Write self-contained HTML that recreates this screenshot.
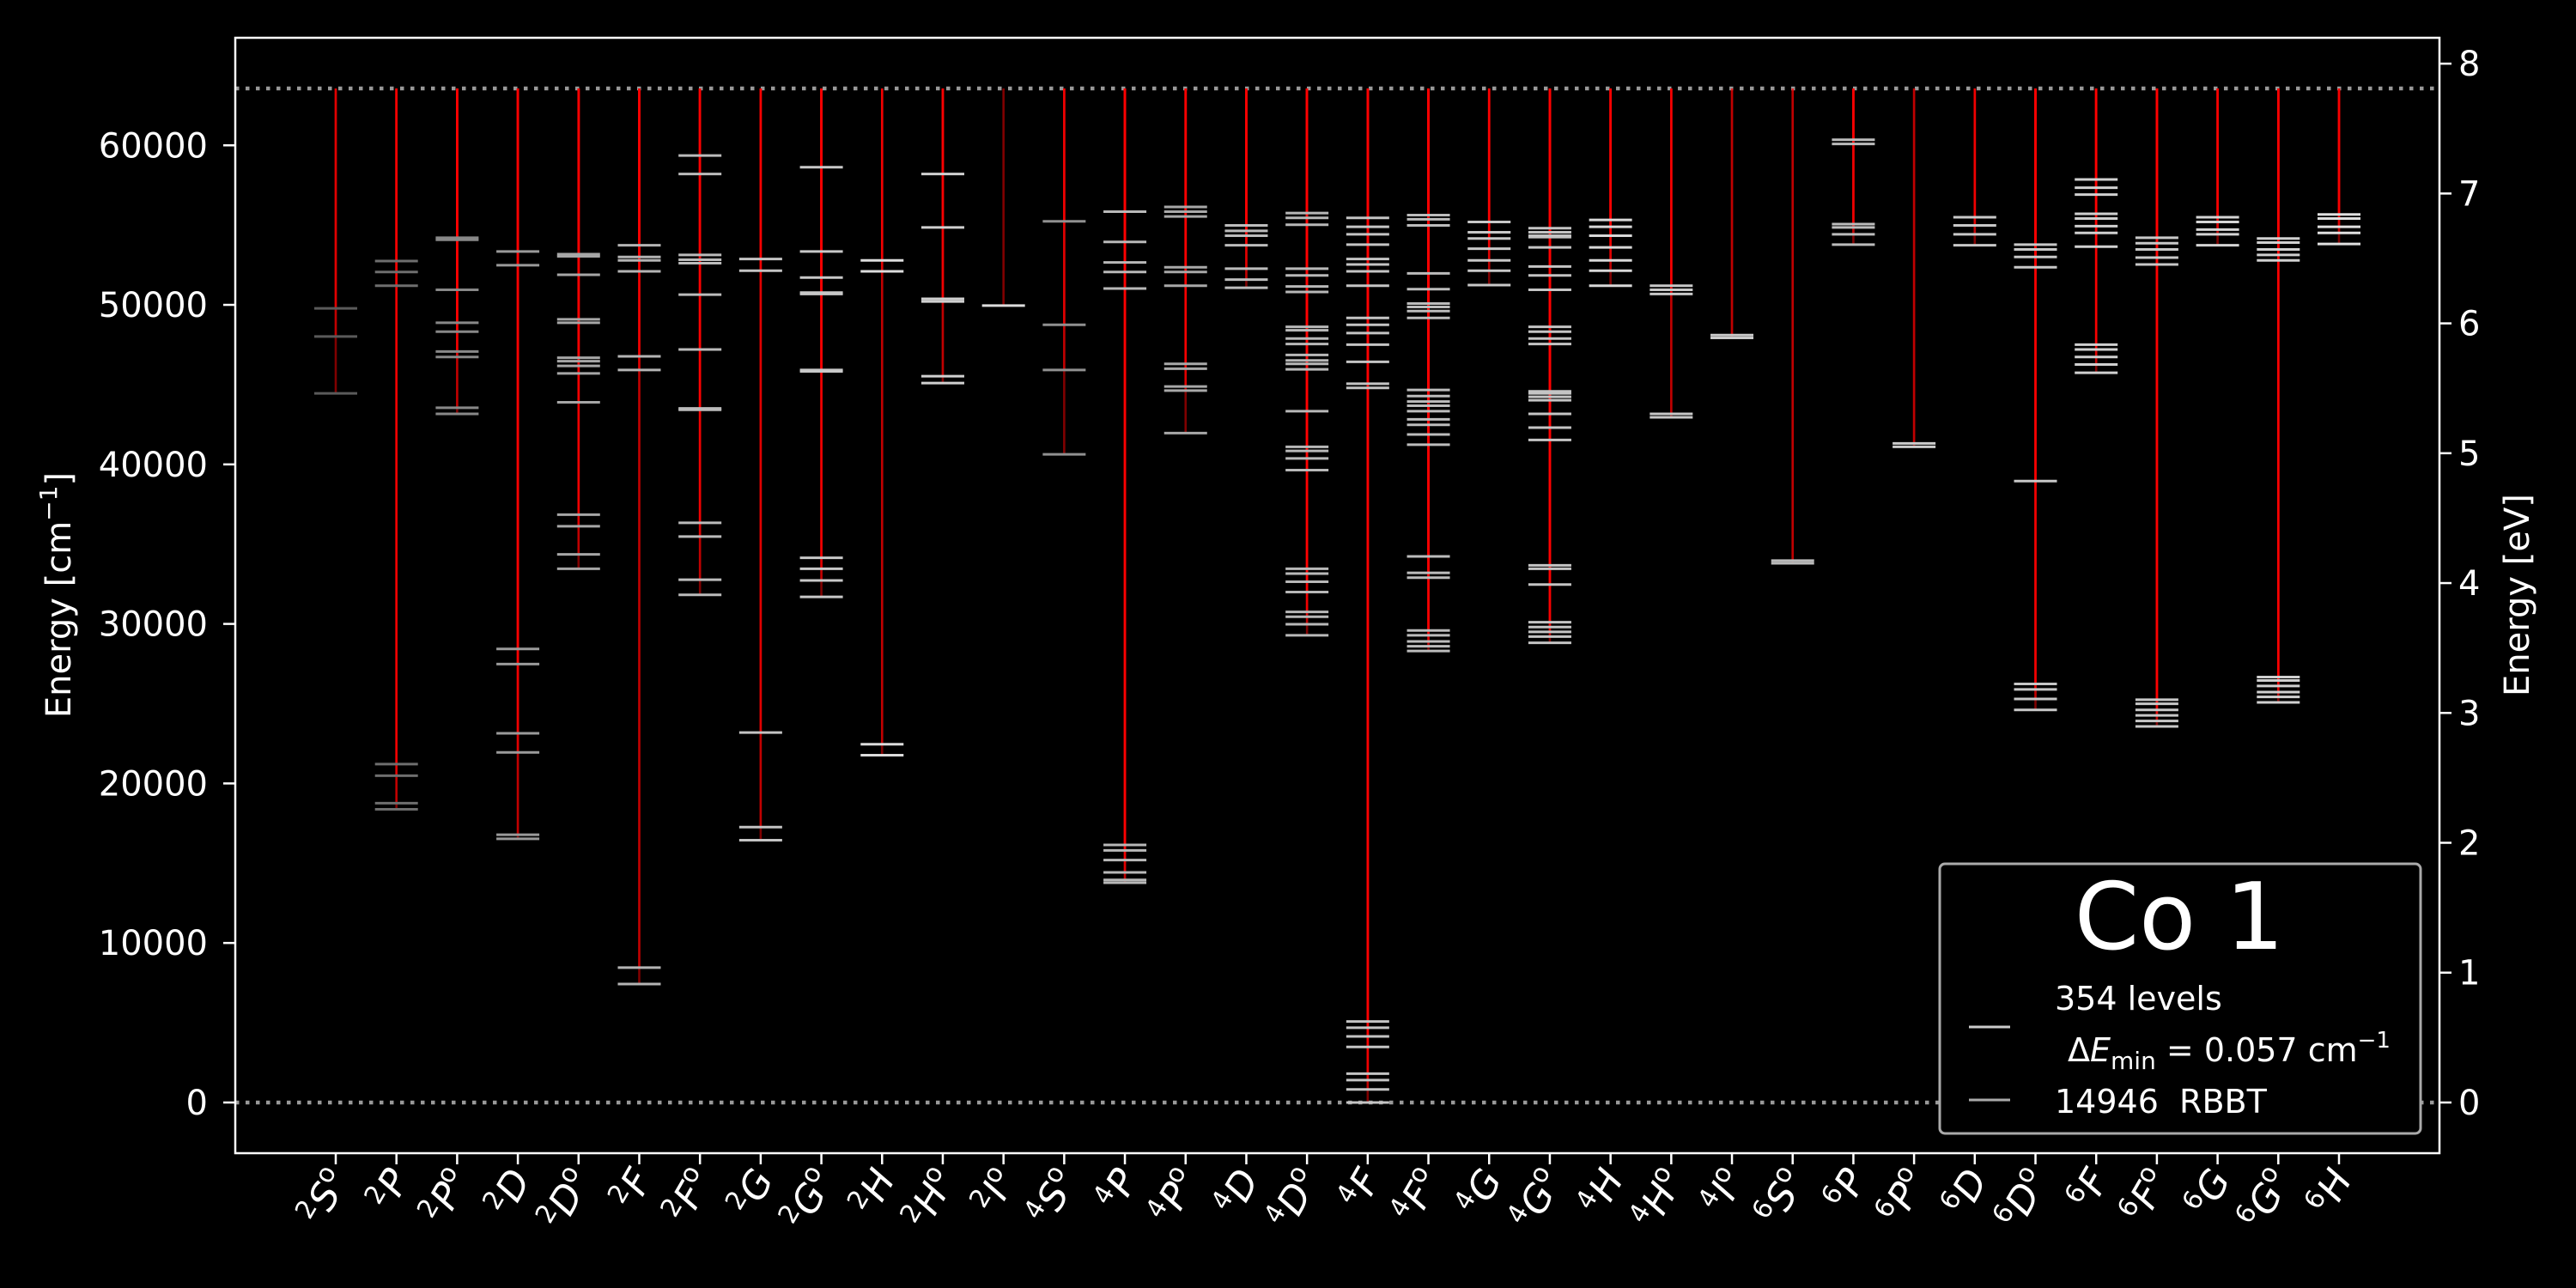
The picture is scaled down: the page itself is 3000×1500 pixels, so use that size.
<!DOCTYPE html>
<html><head><meta charset="utf-8"><style>
html,body{margin:0;padding:0;background:#000;}
svg{display:block;font-family:"DejaVu Sans","Liberation Sans",sans-serif;}
</style></head><body>
<svg id="chart" width="3000" height="1500" viewBox="0 0 3000 1500" xmlns="http://www.w3.org/2000/svg">
<rect x="0" y="0" width="3000" height="1500" fill="#000"/>
<g id="plot"></g>
<text x="0" y="0" transform="translate(82,693) rotate(-90)" text-anchor="middle" fill="#fff" font-size="40">Energy [cm<tspan dy="-16" font-size="28">−1</tspan><tspan dy="16">]</tspan></text>
<text x="0" y="0" transform="translate(2945,693) rotate(-90)" text-anchor="middle" fill="#fff" font-size="40">Energy [eV]</text>
<g>
<rect x="2259" y="1006" width="560" height="314" rx="6" fill="#000" stroke="#aaa" stroke-width="3"/>
<text x="2538" y="1105" text-anchor="middle" fill="#fff" font-size="108">Co 1</text>
<line x1="2293" y1="1196" x2="2341" y2="1196" stroke="#ccc" stroke-width="3"/>
<text x="2393" y="1176" fill="#fff" font-size="38">354 levels</text>
<text x="2408" y="1236" fill="#fff" font-size="38">Δ<tspan font-style="italic">E</tspan><tspan dy="9" font-size="28">min</tspan><tspan dy="-9"> = 0.057 cm</tspan><tspan dy="-16" font-size="26">−1</tspan></text>
<line x1="2293" y1="1281" x2="2341" y2="1281" stroke="#aaa" stroke-width="3"/>
<text x="2393" y="1296" fill="#fff" font-size="38" xml:space="preserve">14946  RBBT</text>
</g>
</svg>
<script>
const terms = ["2S°","2P","2P°","2D","2D°","2F","2F°","2G","2G°","2H","2H°","2I°","4S°","4P","4P°","4D","4D°","4F","4F°","4G","4G°","4H","4H°","4I°","6S°","6P","6P°","6D","6D°","6F","6F°","6G","6G°","6H"];
const levels = [
[49780,48020,44454],
[52745,52058,51198,21213,20483,18765,18378],
[54206,54077,50941,48879,48320,47074,46731,43552,43165],
[53347,52487,28430,27485,23146,21943,16788,16530],
[53175,53046,51886,49094,48879,46688,46473,46172,45700,43896,36851,36120,34359,33457],
[53733,53003,52788,52101,46774,45915,8455,7424],
[59361,58201,53132,52831,52616,50640,47203,43509,43423,36335,35476,32769,31824],
[52874,52144,23189,17261,16444],
[58631,53347,51714,50769,50683,45915,45829,34144,33457,32727,31696],
[52788,52101,22459,21771],
[58201,54850,50382,50210,45528,45098],
[49953],
[55237,48750,45915,40631],
[55839,53948,52659,52058,51027,16143,15800,15198,14425,13952,13780],
[56140,55839,55538,52358,52058,51198,46301,46000,44883,44625,41962],
[54979,54635,54335,53733,52272,51585,51069],
[55753,55452,55022,52272,51843,51155,50812,48621,48406,47890,47546,46860,46516,46301,45958,43337,41103,40846,40373,39643,33456,33156,32640,31996,30750,30449,29976,29289],
[55452,54893,54421,53776,52874,52530,52101,51198,49180,48750,48234,47504,46430,45055,44797,5075,4690,4143,3482,1809,1407,816,0],
[55624,55366,54979,51972,50984,50081,49866,49609,49180,44668,44281,43938,43680,43337,42821,42477,41876,41232,34230,33199,32898,29590,29289,28903,28602,28301],
[55194,54549,54163,53518,52788,52144,51241],
[54807,54549,54335,54249,53604,52401,51843,50941,48621,48320,47890,47546,44582,44453,44238,44023,43165,42305,41532,33671,33457,32469,30105,29804,29503,29203,28816],
[55323,54893,54335,53604,52788,52144,51198],
[51198,50941,50683,43165,42950],
[48105,47933],
[33972,33800],
[60349,60091,55065,54850,54421,53776],
[41318,41103],
[55495,54979,54421,53733],
[53776,53475,53003,52358,38956,26240,25897,25295,24608],
[57858,57342,56913,55710,55409,54936,54507,53647,47504,47203,46730,46258,45743],
[54206,53862,53475,52960,52530,25252,24994,24608,24264,23920,23576],
[55495,55194,54721,54421,53733],
[54163,53905,53475,53132,52788,26670,26455,26111,25725,25424,25080],
[55667,55409,54893,54507,53819]
];
const ionLimit = [63564];
const yTicks = [0,10000,20000,30000,40000,50000,60000];
const eVTicks = [0,1,2,3,4,5,6,7,8];
const cmPerEV = 8140;

const NS="http://www.w3.org/2000/svg";
const L=274,R=2841,T=44,B=1343;
const X0=-1.655,X1=34.655,Y0=-3178,Y1=66742;
function xs(i){return L+(i-X0)/(X1-X0)*(R-L);}
function ys(v){return B-(v-Y0)/(Y1-Y0)*(B-T);}
const plot=document.getElementById('plot');
function mk(tag,attrs,parent){const e=document.createElementNS(NS,tag);for(const k in attrs)e.setAttribute(k,attrs[k]);(parent||plot).appendChild(e);return e;}
const grays=["#5a5a5a","#6e6e6e","#888","#9a9a9a","#a6a6a6","#b4b4b4","#bbb","#c4c4c4","#c8c8c8","#ddd","#d0d0d0","#ddd","#909090","#b8b8b8","#a8a8a8","#bcbcbc","#b8b8b8","#c4c4c4","#bcbcbc","#c8c8c8","#c4c4c4","#d8d8d8","#c8c8c8","#ccc","#bbb","#bbb","#ccc","#c8c8c8","#c8c8c8","#d0d0d0","#c8c8c8","#d4d4d4","#d0d0d0","#e0e0e0"];

let l=mk('line',{x1:L,x2:R,y1:ys(0),y2:ys(0),stroke:'#999','stroke-width':4.5,'stroke-dasharray':'4.5 7.5'});


l=mk('line',{x1:L,x2:R,y1:ys(ionLimit[0]),y2:ys(ionLimit[0]),stroke:'#999','stroke-width':4.5,'stroke-dasharray':'4.5 7.5'});



terms.forEach((t,i)=>{
  const g=mk('g',{});
  
  
  const x=xs(i);
  levels[i].forEach(v=>{
    const r=mk('line',{x1:x,x2:x,y1:ys(v),y2:ys(ionLimit[0]),stroke:'#ff0000','stroke-width':2.6,'stroke-opacity':0.5},g);
    
    
  });
  levels[i].forEach(v=>{
    const s=mk('line',{x1:x-25,x2:x+25,y1:ys(v),y2:ys(v),stroke:grays[i],'stroke-width':3},g);
    
    
  });
  const tk=mk('line',{x1:x,x2:x,y1:B,y2:B+13,stroke:'#fff','stroke-width':2.5});
  
  
  const mult=t[0], letter=t.slice(1).replace('°',''), odd=t.includes('°');
  const tx=mk('text',{x:0,y:0,transform:`translate(${x+16},${B+30}) rotate(-60)`,'text-anchor':'end',fill:'#fff','font-size':44});
  
  
  const a=mk('tspan',{'font-size':30,dy:-16},tx);a.textContent=mult;
  const b=mk('tspan',{'font-style':'italic',dy:16},tx);b.textContent=letter;
  if(odd){const c=mk('tspan',{'font-size':30,dy:-17},tx);c.textContent='o';}
});

const fr=mk('rect',{x:L,y:T,width:R-L,height:B-T,fill:'none',stroke:'#fff','stroke-width':2.5});



yTicks.forEach(v=>{
  const y=ys(v);
  const t=mk('line',{x1:L-14,x2:L,y1:y,y2:y,stroke:'#fff','stroke-width':2.5});
  
  
  const tx=mk('text',{x:L-32,y:y+14,'text-anchor':'end',fill:'#fff','font-size':40});
  
  
  tx.textContent=v;
});
eVTicks.forEach(v=>{
  const y=ys(v*cmPerEV);
  const t=mk('line',{x1:R,x2:R+14,y1:y,y2:y,stroke:'#fff','stroke-width':2.5});
  
  
  const tx=mk('text',{x:R+22,y:y+14,'text-anchor':'start',fill:'#fff','font-size':40});
  
  
  tx.textContent=v;
});
</script>
</body></html>
